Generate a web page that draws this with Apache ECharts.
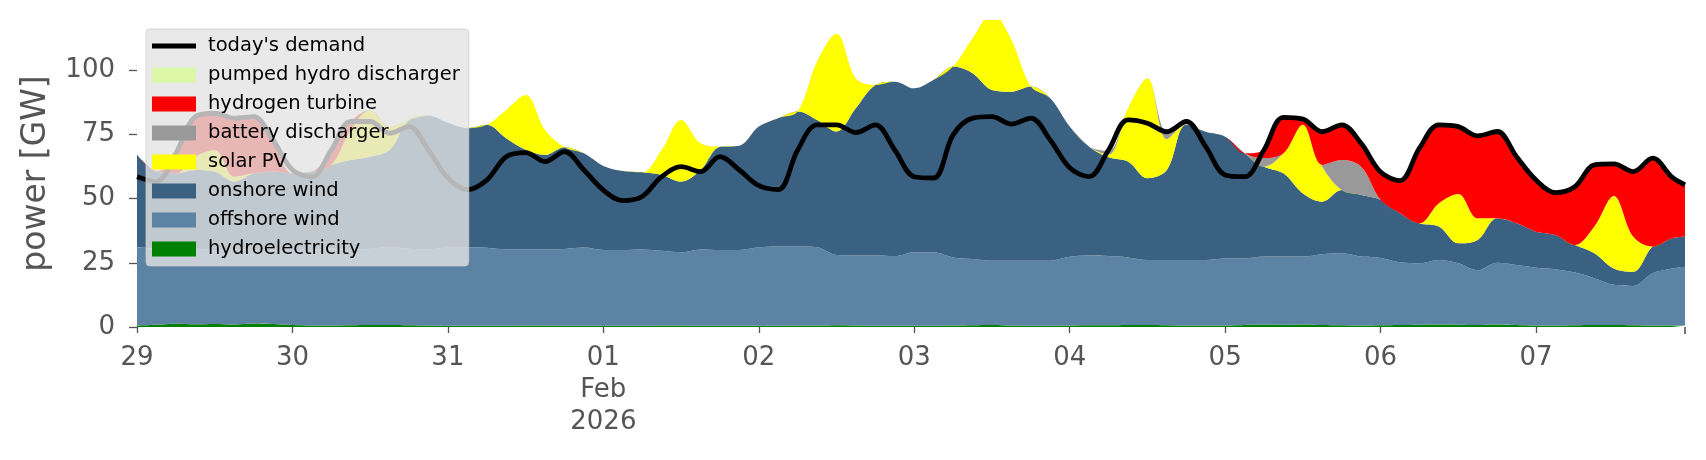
<!DOCTYPE html>
<html>
<head>
<meta charset="utf-8">
<script src="https://cdn.jsdelivr.net/npm/echarts@6/dist/echarts.min.js"></script>
<style>
  html, body { margin: 0; padding: 0; background: #fff; }
  #chart { width: 1706px; height: 460px; }
</style>
</head>
<body>
<div id="chart"></div>
<script>
// hours since 29 Jan 2026 00:00, 3-hourly, last point 7 Feb 23:00
const hours = [
  0, 3, 6, 9, 12, 15, 18, 21,
  24, 27, 30, 33, 36, 39, 42, 45,
  48, 51, 54, 57, 60, 63, 66, 69,
  72, 75, 78, 81, 84, 87, 90, 93,
  96, 99, 102, 105, 108, 111, 114, 117,
  120, 123, 126, 129, 132, 135, 138, 141,
  144, 147, 150, 153, 156, 159, 162, 165,
  168, 171, 174, 177, 180, 183, 186, 189,
  192, 195, 198, 201, 204, 207, 210, 213,
  216, 219, 222, 225, 228, 231, 234, 237,
  239
];
const dayLabels = ['29', '30', '31', '01\nFeb\n2026', '02', '03', '04', '05', '06', '07'];
const yTicks = [0, 25, 50, 75, 100];

// GW, one row per day
const hydro = [
  0.6, 0.9, 1.3, 1.1, 1.2, 1.0, 1.4, 1.2,
  0.8, 0.6, 0.6, 0.7, 0.8, 0.8, 0.7, 0.6,
  0.5, 0.5, 0.5, 0.5, 0.6, 0.6, 0.5, 0.5,
  0.5, 0.5, 0.5, 0.6, 0.6, 0.5, 0.5, 0.5,
  0.5, 0.5, 0.6, 0.6, 0.7, 0.6, 0.5, 0.5,
  0.5, 0.5, 0.6, 0.7, 0.8, 0.6, 0.5, 0.5,
  0.6, 0.7, 0.7, 0.8, 0.8, 0.7, 0.6, 0.6,
  0.6, 0.8, 1.0, 0.9, 1.0, 0.8, 0.7, 0.6,
  0.7, 0.8, 0.9, 1.0, 0.9, 0.8, 1.0, 0.8,
  0.6, 0.6, 0.7, 0.8, 0.8, 0.7, 0.6, 0.6,
  0.6
];
const offshore = [
  30.4, 29.6, 28.9, 29.4, 28.8, 29.3, 28.6, 28.6,
  29.2, 29.6, 30.0, 29.3, 29.7, 30.2, 29.8, 29.7,
  30.3, 30.5, 30.3, 29.7, 29.6, 29.6, 29.9, 30.4,
  29.5, 29.5, 29.7, 29.1, 28.5, 29.7, 29.5, 29.5,
  30.5, 30.8, 30.7, 30.4, 27.3, 27.3, 27.4, 27.1,
  28.6, 28.6, 26.5, 25.8, 25.0, 25.2, 25.3, 25.3,
  26.7, 27.1, 26.9, 26.3, 25.3, 25.4, 25.5, 25.5,
  26.1, 25.9, 26.4, 26.5, 26.4, 27.5, 28.0, 26.8,
  26.2, 24.4, 23.9, 25.1, 23.9, 21.3, 24.0, 23.3,
  22.5, 21.9, 20.5, 18.2, 15.6, 15.3, 20.3, 22.2,
  22.9
];
const onshore = [
  36.0, 30.0, 29.6, 30.6, 30.5, 26.3, 29.8, 30.7,
  29.8, 30.3, 32.5, 35.0, 35.8, 37.9, 50.1, 51.9,
  48.7, 46.4, 47.9, 43.3, 38.8, 36.8, 39.6, 36.7,
  32.7, 30.7, 30.0, 29.5, 27.5, 30.9, 40.2, 40.6,
  47.0, 50.0, 52.6, 49.6, 48.1, 57.3, 66.3, 67.9,
  63.8, 67.1, 74.3, 72.3, 66.5, 65.8, 67.8, 63.2,
  50.7, 42.4, 38.5, 37.3, 31.8, 35.0, 52.6, 49.9,
  47.4, 40.9, 35.0, 32.4, 24.6, 20.5, 24.6, 24.0,
  22.6, 19.1, 15.6, 13.0, 7.8, 11.8, 17.3, 16.3,
  14.0, 13.3, 10.7, 9.7, 6.4, 5.5, 10.4, 11.7,
  11.7
];
const solar = [
  0, 0, 0, 5.2, 8.4, 1.9, 0, 0,
  0, 0, 0, 11.7, 18.2, 9.1, 0, 0,
  0, 0, 0, 11.0, 21.3, 9.7, 0, 0,
  0, 0, 0, 9.7, 24.0, 10.4, 0, 0,
  0, 0, 0, 22.7, 38.0, 11.5, 0, 0,
  0, 0, 0, 13.6, 30.0, 20.2, 0, 0,
  0, 0, 1.0, 20.7, 38.9, 12.0, 0, 0,
  0, 0, 0, 7.8, 26.7, 13.6, 0, 0,
  0, 0, 0, 9.1, 19.2, 8.4, 0, 0,
  0, 0, 0, 10.4, 28.2, 13.7, 0, 0,
  0
];
const battery = [
  0, 0, 0, 0, 0, 0, 0, 0,
  0, 0, 0, 0, 0, 0, 0, 0,
  0, 0, 0, 0, 0, 0, 0, 0,
  0, 0, 0, 0, 0, 0, 0, 0,
  0, 0, 0, 0, 0, 0, 0, 0,
  0, 0, 0, 0, 0, 0, 0, 0,
  0, 0, 1.5, 0, 0, 3.0, 0, 0,
  0, 0, 3.3, 0, 0, 0.7, 11.7, 11.0,
  0, 0, 0, 0, 0, 0, 0, 0,
  0, 0, 0, 0, 0, 0, 0, 0,
  0
];
const hydrogen = [
  0, 0, 7.8, 15.6, 14.3, 22.8, 22.1, 12.3,
  0, 0, 5.8, 3.3, 0, 0, 0, 0,
  0, 0, 0, 0, 0, 0, 0, 0,
  0, 0, 0, 0, 0, 0, 0, 0,
  0, 0, 0, 0, 0, 0, 0, 0,
  0, 0, 0, 0, 0, 0, 0, 0,
  0, 0, 0, 0, 0, 0, 0, 0,
  0, 0, 3.2, 14.0, 2.2, 12.9, 13.7, 9.1,
  10.8, 12.7, 29.2, 30.5, 26.2, 32.1, 33.8, 25.9,
  20.1, 16.5, 22.7, 24.0, 12.5, 25.3, 34.4, 23.8,
  20.1
];
const pumpedHydro = [
  0, 0, 0, 0, 0, 0, 0, 0,
  0, 0, 0, 0, 0, 0, 0, 0,
  0, 0, 0, 0, 0, 0, 0, 0,
  0, 0, 0, 0, 0, 0, 0, 0,
  0, 0, 0, 0, 0, 0, 0, 0,
  0, 0, 0, 0, 0, 0, 0, 0,
  0, 0, 0, 0, 0, 0, 0, 0,
  0, 0, 0, 0, 0, 0, 0, 0,
  0, 0, 0, 0, 0, 0, 0, 0,
  0, 0, 0, 0, 0, 0, 0, 0,
  0
];
const demand = [
  58.5, 56.6, 67.6, 81.9, 83.2, 81.3, 81.9, 72.8,
  61.1, 58.5, 68.9, 80.0, 80.0, 75.4, 78.0, 68.9,
  58.0, 53.5, 57.2, 66.3, 67.9, 64.4, 68.3, 61.1,
  53.3, 49.2, 50.8, 58.5, 62.4, 60.5, 66.3, 61.1,
  55.0, 53.5, 68.9, 78.7, 78.7, 75.7, 78.7, 68.9,
  58.5, 58.0, 74.8, 81.3, 81.9, 79.0, 81.3, 72.8,
  62.0, 58.5, 68.9, 80.6, 79.3, 76.0, 80.0, 70.2,
  59.2, 58.5, 68.9, 81.6, 80.9, 76.0, 78.7, 71.5,
  60.3, 57.0, 69.6, 78.7, 78.0, 74.4, 76.1, 66.3,
  57.2, 52.3, 54.6, 63.1, 63.5, 60.5, 65.7, 58.3,
  55.3
];

const font = 'DejaVu Sans';
const t0 = Date.UTC(2026, 0, 29);
const HOUR = 3600 * 1000;
const DAY = 24 * HOUR;
const toTime = (h) => t0 + h * HOUR;
const pairs = (vals) => hours.map((h, i) => [toTime(h), vals[i]]);

function areaSeries(name, vals, color) {
  return {
    name: name,
    type: 'line',
    stack: 'gen',
    data: pairs(vals),
    smooth: 0.35,
    showSymbol: false,
    color: color,
    lineStyle: { width: 0 },
    areaStyle: { color: color, opacity: 1 },
    itemStyle: { color: color },
    emphasis: { disabled: true },
    z: 2
  };
}

const chart = echarts.init(document.getElementById('chart'));
const option = {
  animation: false,
  useUTC: true,
  backgroundColor: '#fff',
  textStyle: { fontFamily: font },
  grid: { left: 137, right: 21, top: 20, bottom: 133 },
  legend: {
    orient: 'vertical',
    left: 146,
    top: 29,
    padding: [7, 9, 7, 6],
    itemWidth: 44,
    itemHeight: 15,
    itemGap: 9,
    backgroundColor: 'rgba(228,228,228,0.8)',
    borderColor: 'rgba(204,204,204,0.8)',
    borderWidth: 1,
    borderRadius: 4,
    selectedMode: false,
    textStyle: { fontFamily: font, fontSize: 19.5, lineHeight: 20, color: '#000', padding: [0, 0, 0, 7] },
    data: [
      { name: "today's demand", icon: 'path://M0 0H44V5H0Z' },
      { name: 'pumped hydro discharger', icon: 'rect' },
      { name: 'hydrogen turbine', icon: 'rect' },
      { name: 'battery discharger', icon: 'rect' },
      { name: 'solar PV', icon: 'rect' },
      { name: 'onshore wind', icon: 'rect' },
      { name: 'offshore wind', icon: 'rect' },
      { name: 'hydroelectricity', icon: 'rect' }
    ]
  },
  xAxis: [
    {
      type: 'time',
      min: toTime(0),
      max: toTime(239),
      minInterval: DAY,
      maxInterval: DAY,
      axisLine: { show: false },
      splitLine: { show: false },
      axisTick: {
        length: 6,
        lineStyle: { color: '#555', width: 1.3 }
      },
      axisLabel: {
        formatter: (v) => dayLabels[Math.round((v - t0) / DAY)] || '',
        hideOverlap: false,
        fontFamily: font,
        fontSize: 26,
        lineHeight: 32,
        margin: 15,
        color: '#555'
      }
    },
    {
      // only draws the closing tick at the right edge
      type: 'value',
      position: 'bottom',
      min: 0,
      max: 239,
      axisLine: { show: false },
      splitLine: { show: false },
      axisLabel: { show: false },
      axisTick: {
        length: 7,
        customValues: [239],
        lineStyle: { color: '#555', width: 1.6 }
      }
    }
  ],
  yAxis: {
    type: 'value',
    min: 0,
    max: 119.5,
    name: 'power [GW]',
    nameLocation: 'middle',
    nameGap: 84,
    nameTextStyle: { fontFamily: font, fontSize: 33, color: '#555' },
    axisLine: { show: false },
    splitLine: { show: false },
    axisTick: {
      show: true,
      length: 8,
      customValues: yTicks,
      lineStyle: { color: '#555', width: 1.3 }
    },
    axisLabel: {
      customValues: yTicks,
      fontFamily: font,
      fontSize: 26,
      margin: 22,
      color: '#555'
    }
  },
  series: [
    areaSeries('hydroelectricity', hydro, '#008000'),
    areaSeries('offshore wind', offshore, '#5c83a3'),
    areaSeries('onshore wind', onshore, '#3b6182'),
    areaSeries('solar PV', solar, '#ffff00'),
    areaSeries('battery discharger', battery, '#999999'),
    areaSeries('hydrogen turbine', hydrogen, '#ff0000'),
    areaSeries('pumped hydro discharger', pumpedHydro, '#dcf7a8'),
    {
      name: "today's demand",
      type: 'line',
      data: pairs(demand),
      smooth: 0.35,
      showSymbol: false,
      color: '#000',
      lineStyle: { color: '#000', width: 4.8 },
      itemStyle: { color: '#000' },
      emphasis: { disabled: true },
      z: 3
    }
  ]
};
chart.setOption(option);
</script>
</body>
</html>
